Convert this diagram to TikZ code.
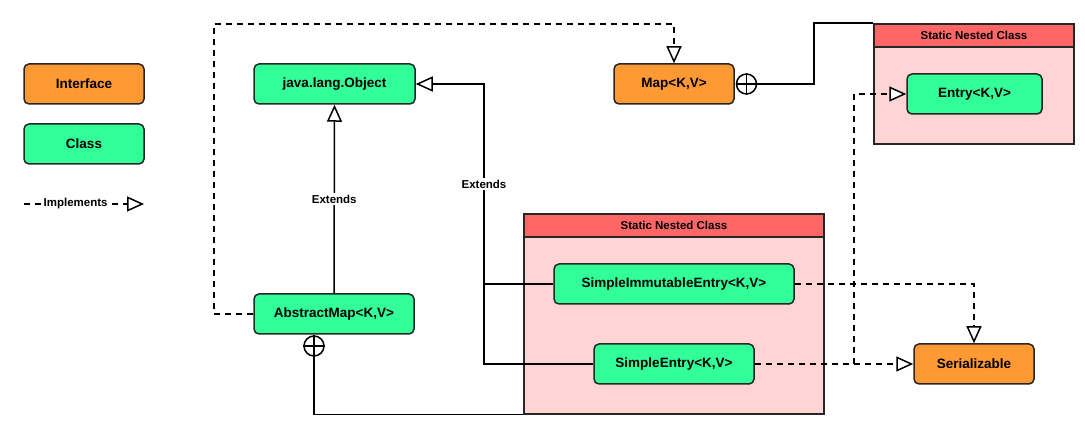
\documentclass[tikz,border=0pt]{standalone}
\usepackage{fontspec}
\setmainfont{Liberation Sans}
\usetikzlibrary{arrows.meta}
\definecolor{iface}{HTML}{FF9933}
\definecolor{cls}{HTML}{33FF99}
\definecolor{hdr}{HTML}{FF6666}
\definecolor{nestbg}{HTML}{FFD4D4}
\begin{document}
\begin{tikzpicture}[x=1pt,y=-1pt,
  line width=1.5pt,
  base/.style={draw=black!85, line width=1.5pt, rounded corners=5pt, minimum height=40pt, inner sep=0pt,
    font=\fontsize{13.5}{16}\selectfont\bfseries},
  ifacebox/.style={base, fill=iface},
  clsbox/.style={base, fill=cls},
  hdrbox/.style={draw=black!85, fill=hdr, line width=1.5pt, inner sep=0pt, minimum height=23pt,
    font=\fontsize{11.5}{13}\selectfont\bfseries},
  nestbox/.style={draw=black!85, fill=nestbg, line width=1.5pt, inner sep=0pt},
  lbl/.style={fill=white, inner sep=1.5pt, font=\fontsize{11.5}{13}\selectfont\bfseries},
  impl/.style={dash pattern=on 6pt off 5pt, -{Triangle[open, length=17pt, width=15pt, fill=white, line width=1.5pt]}},
  ext/.style={-{Triangle[open, length=17pt, width=15pt, fill=white, line width=1.5pt]}},
  oplus/.style={circle, draw, line width=1.5pt, minimum size=20pt, inner sep=0pt, fill=white}
]
\useasboundingbox (0,0) rectangle (1085,435);

% legend
\node[ifacebox, minimum width=120pt] (legI) at (84,84) {Interface};
\node[clsbox, minimum width=120pt] (legC) at (84,144) {Class};
\coordinate (legA) at (24,204);
\coordinate (legB) at (144,204);
\draw[impl] (legA) -- (legB) node[pos=0.43, lbl] {Implements};

% nested class boxes
\node[nestbox, minimum width=200pt, minimum height=120pt] (nest1) at (974,84) {};
\node[hdrbox, minimum width=200pt, anchor=north] (hdr1) at (nest1.north) {Static Nested Class};
\node[nestbox, minimum width=300pt, minimum height=200pt] (nest2) at (674,314) {};
\node[hdrbox, minimum width=300pt, anchor=north] (hdr2) at (nest2.north) {Static Nested Class};

% classes
\node[clsbox, minimum width=161pt] (obj) at (334.5,84) {java.lang.Object};
\node[ifacebox, minimum width=120pt] (map) at (674,84) {Map<K,V>};
\node[clsbox, minimum width=135pt] (entry) at (974.5,94) {Entry<K,V>};
\node[clsbox, minimum width=160pt] (amap) at (334,314) {AbstractMap<K,V>};
\node[clsbox, minimum width=240pt] (sie) at (674,284) {SimpleImmutableEntry<K,V>};
\node[clsbox, minimum width=160pt] (se) at (674,364) {SimpleEntry<K,V>};
\node[ifacebox, minimum width=120pt] (ser) at (974,364) {Serializable};

% oplus symbols
\node[oplus] (mapc) at (746.5,84) {};
\draw (mapc.north) -- (mapc.south) (mapc.west) -- (mapc.east);
\node[oplus] (amc) at (314,346) {};
\draw (amc.north) -- (amc.south) (amc.west) -- (amc.east);

% containment
\coordinate (mapbend) at (814,84);
\draw (mapc.east) -- (mapbend) |- (nest1.north west);
\draw (amc.south) |- (nest2.south west);

% extends
\draw[ext] (amap.north) -- (obj.south) node[midway, lbl] {Extends};
\coordinate (ej) at (484,84);
\coordinate (ej1) at (484,284);
\coordinate (ej2) at (484,364);
\draw (sie.west) -- (ej1);
\draw (se.west) -- (ej2) -- (ej1);
\draw[ext] (ej1) -- (ej) -- (obj.east);
\node[lbl] (extlbl) at (484,184) {Extends};

% implements
\coordinate (am1) at (214,314);
\coordinate (am2) at (214,24);
\draw[impl] (amap.west) -- (am1) -- (am2) -| (map.north);
\coordinate (se1) at (854,364);
\draw[impl] (se.east) -- (ser.west);
\draw[impl] (se1) |- (entry.west);
\draw[impl] (sie.east) -| (ser.north);
\end{tikzpicture}
\end{document}
